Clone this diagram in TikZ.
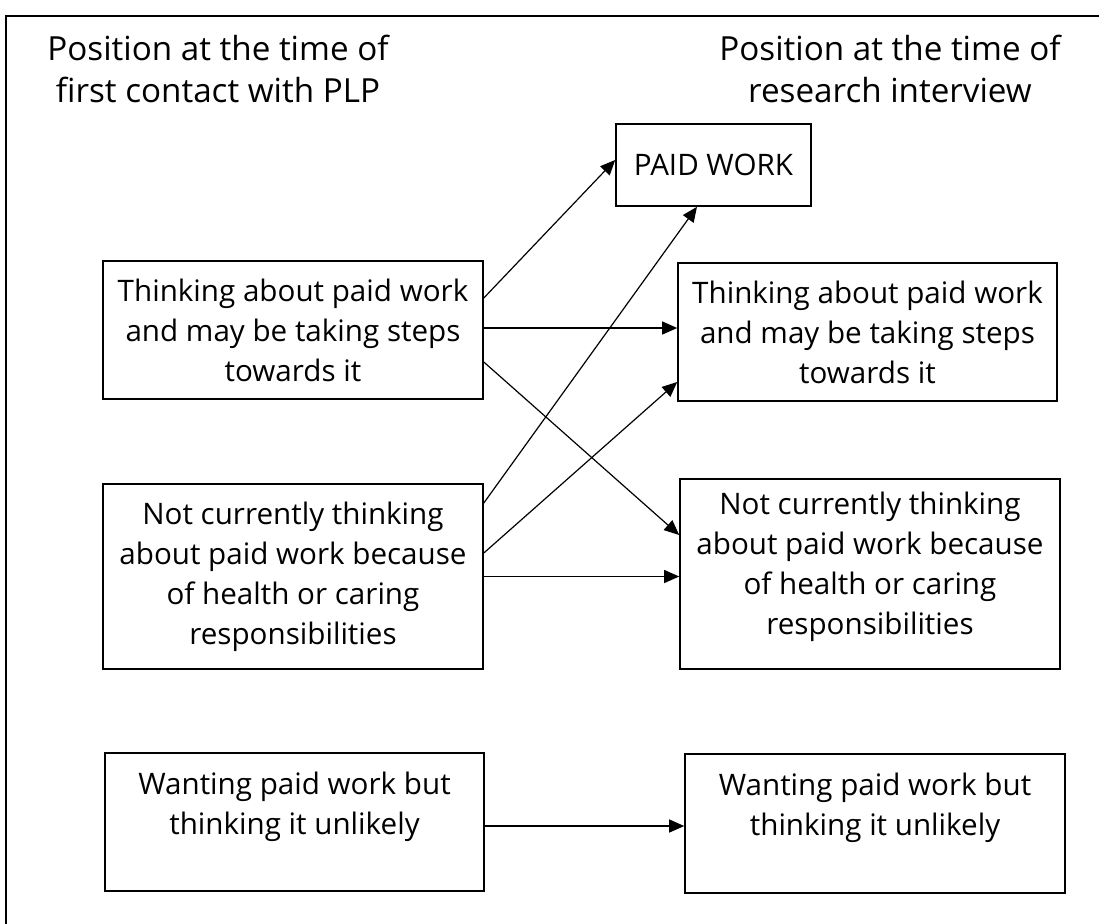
\documentclass[tikz,border=0pt]{standalone}
\usepackage{fontspec}
\newfontfamily\diagfont{Open Sans}
\usetikzlibrary{arrows.meta,calc}
\begin{document}
\begin{tikzpicture}[x=0.5pt,y=-0.5pt,
  box/.style={draw=black,line width=0.8pt,rectangle,inner sep=0pt},
  txt/.style={align=center,font=\diagfont\fontsize{14.8}{20}\selectfont,inner sep=0pt},
  head/.style={align=center,font=\diagfont\fontsize{16.6}{21}\selectfont,inner sep=0pt},
  arr/.style={line width=0.6pt,-{Triangle[length=7.5pt,width=6.5pt]},shorten >=0pt}
]
\useasboundingbox (0,0) rectangle (1099,923);
% outer frame (open at right and bottom)
\coordinate (fb) at (6,930);
\coordinate (ftl) at (6,16);
\coordinate (fr) at (1105,16);
\draw[line width=1.2pt] (fb) -- (ftl) -- (fr);

% headers
\node[head] (hl) at (218,69) {Position at the time of\\first contact with PLP};
\node[head] (hr) at (890,69) {Position at the time of\\research interview};

% boxes
\node[box,minimum width=97.5pt,minimum height=41pt] (PW) at (713.5,165) {};
\node[txt] (PWt) at (PW.center) {PAID WORK};

\node[box,minimum width=190pt,minimum height=69pt] (L1) at (293,330) {};
\node[txt] (L1t) at (L1.center) {Thinking about paid work\\and may be taking steps\\towards it};

\node[box,minimum width=189.5pt,minimum height=69pt] (R1) at (867.5,332) {};
\node[txt] (R1t) at (R1.center) {Thinking about paid work\\and may be taking steps\\towards it};

\node[box,minimum width=190pt,minimum height=92.5pt] (L2) at (293,576.5) {};
\node[txt] (L2t) at (L2.center) {Not currently thinking\\about paid work because\\of health or caring\\responsibilities};

\node[box,minimum width=190pt,minimum height=95pt] (R2) at (870,574) {};
\node[txt] (R2t) at ([yshift=3.5pt]R2.center) {Not currently thinking\\about paid work because\\of health or caring\\responsibilities};

\node[box,minimum width=189.5pt,minimum height=69pt] (L3) at (294.5,822) {};
\node[txt] (L3t) at ([yshift=7.5pt]L3.center) {Wanting paid work but\\thinking it unlikely};

\node[box,minimum width=190pt,minimum height=69.5pt] (R3) at (875,823.5) {};
\node[txt] (R3t) at ([yshift=7.75pt]R3.center) {Wanting paid work but\\thinking it unlikely};

% connectors
\draw[arr] ([yshift=16pt]L1.east) -- ([yshift=2.5pt]PW.west);
\draw[arr] ([yshift=1pt]L1.east) -- ([yshift=1pt]L1.east -| R1.west);
\draw[arr] ([yshift=-16pt]L1.east) -- ([yshift=19.5pt]R2.west);
\draw[arr] ([yshift=36.75pt]L2.east) -- ([xshift=-8.25pt]PW.south);
\draw[arr] ([yshift=11.75pt]L2.east) -- ([yshift=-25pt]R1.west);
\draw[arr] (L2.east) -- (L2.east -| R2.west);
\draw[arr] ([yshift=-2pt]L3.east) -- ([yshift=-2pt]L3.east -| R3.west);
\end{tikzpicture}
\end{document}
